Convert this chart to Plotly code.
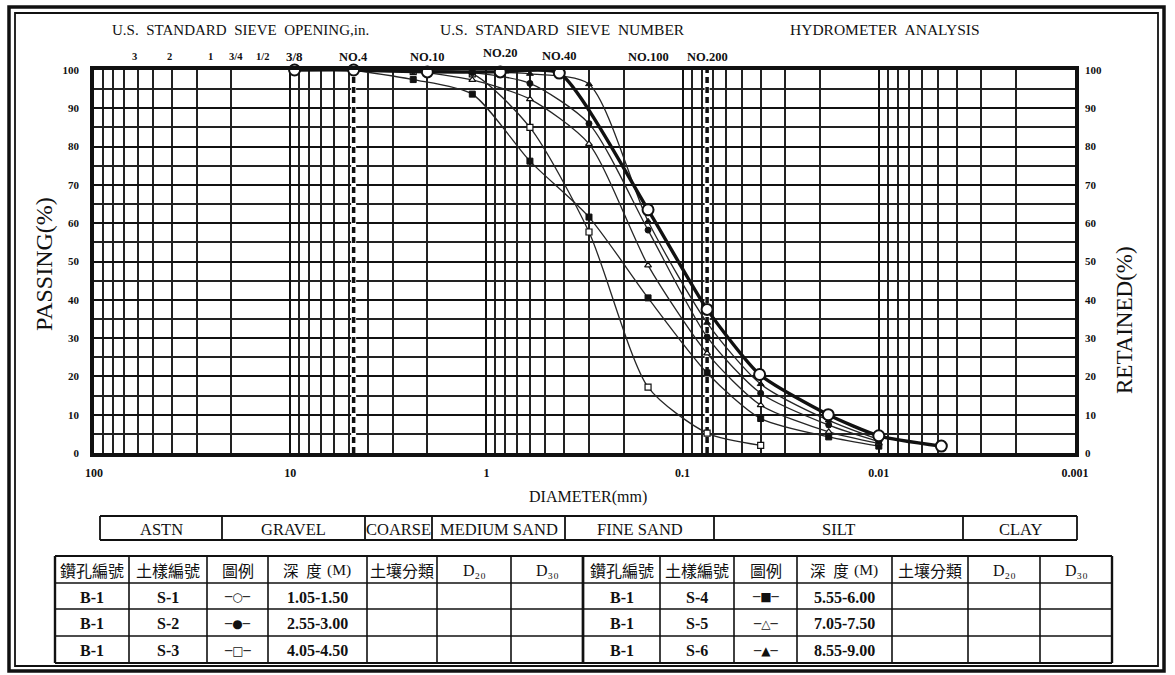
import numpy as np
import plotly.graph_objects as go

# ---------------- data ----------------
# S-1: sieve + hydrometer diameters (mm) and percent passing
s1_d = [9.5, 4.75, 2.0, 0.85, 0.425, 0.15, 0.075, 0.0405, 0.0181, 0.0100, 0.0048]
s1_p = [100, 100, 99.5, 99.5, 99.2, 63.5, 37.5, 20.5, 10.0, 4.5, 1.8]

# S-2 .. S-6: sieves No.4, 8, 16, 30, 50, 100, 200 then hydrometer readings
s2_d = [4.75, 2.36, 1.18, 0.6, 0.3, 0.15, 0.075, 0.040, 0.018, 0.010]
s2_p = [100, 99.8, 99.3, 96.5, 86.0, 58.2, 30.3, 15.6, 7.3, 3.0]

s3_d = [4.75, 2.36, 1.18, 0.6, 0.3, 0.15, 0.075, 0.040]
s3_p = [100, 99.6, 99.0, 85.0, 57.7, 17.2, 5.2, 2.0]

s4_d = [4.75, 2.36, 1.18, 0.6, 0.3, 0.15, 0.075, 0.040, 0.018, 0.010]
s4_p = [100, 97.5, 93.7, 76.2, 61.6, 40.5, 20.9, 9.0, 4.2, 1.8]

s5_d = [4.75, 2.36, 1.18, 0.6, 0.3, 0.15, 0.075, 0.040, 0.018, 0.010]
s5_p = [100, 99.7, 97.4, 92.4, 80.7, 49.0, 26.0, 12.5, 5.5, 2.5]

s6_d = [4.75, 2.36, 1.18, 0.6, 0.3, 0.15, 0.075, 0.040, 0.018, 0.010]
s6_p = [100, 99.8, 99.5, 99.0, 96.3, 60.5, 34.0, 18.0, 8.5, 3.5]

# sieve labels along the top (label, opening in mm)
sieve_labels = ["3", "2", "1", "3/4", "1/2", "3/8", "NO.4", "NO.10", "NO.20", "NO.40", "NO.100", "NO.200"]
sieve_mm = [76.2, 50.8, 25.4, 19.0, 12.7, 9.5, 4.75, 2.0, 0.85, 0.425, 0.15, 0.075]

# boundary sieves drawn as dashed lines
no4_mm = 4.75
no200_mm = 0.075

x_tick_vals = [100, 10, 1, 0.1, 0.01, 0.001]
x_tick_text = ["100", "10", "1", "0.1", "0.01", "0.001"]
y_tick_vals = [0, 10, 20, 30, 40, 50, 60, 70, 80, 90, 100]

class_labels = ["ASTN", "GRAVEL", "COARSE", "MEDIUM SAND", "FINE SAND", "SILT", "CLAY"]

table_header = ["鑽孔編號", "土樣編號", "圖例", "深 度(M)", "土壤分類", "D₂₀", "D₃₀"]
left_rows = [["B-1", "S-1", "─○─", "1.05-1.50"],
             ["B-1", "S-2", "─●─", "2.55-3.00"],
             ["B-1", "S-3", "─□─", "4.05-4.50"]]
right_rows = [["B-1", "S-4", "─■─", "5.55-6.00"],
              ["B-1", "S-5", "─△─", "7.05-7.50"],
              ["B-1", "S-6", "─▲─", "8.55-9.00"]]

# ---------------- layout geometry (pixels) ----------------
W, H = 1175, 675
L, R, T, B = 94, 1075, 70, 453


def px(xp):
    return (xp - L) / (R - L)


def py(yp):
    return (B - yp) / (B - T)


SERIF = "Liberation Serif"
CJK = "Noto Sans CJK TC"
INK = "#111111"

fig = go.Figure()

# boundary dashed lines (white backing so the gaps read as breaks)
for d in (no4_mm, no200_mm):
    fig.add_trace(go.Scatter(x=[d, d], y=[0, 100], mode="lines",
                             line=dict(color="white", width=5),
                             hoverinfo="skip", showlegend=False))
    fig.add_trace(go.Scatter(x=[d, d], y=[0, 100], mode="lines",
                             line=dict(color=INK, width=3.5, dash="6px,4px"),
                             hoverinfo="skip", showlegend=False))

thin = dict(color="#262626", width=1.3, shape="spline", smoothing=0.7)
samples = [
    (s4_d, s4_p, dict(symbol="square", size=6, color=INK, line=dict(color=INK, width=1))),
    (s3_d, s3_p, dict(symbol="square", size=6, color="white", line=dict(color=INK, width=1.2))),
    (s5_d, s5_p, dict(symbol="triangle-up", size=6, color="white", line=dict(color=INK, width=1.2))),
    (s2_d, s2_p, dict(symbol="circle", size=6, color=INK, line=dict(color=INK, width=1))),
    (s6_d, s6_p, dict(symbol="triangle-up", size=6, color=INK, line=dict(color=INK, width=1))),
]
for d, p, mk in samples:
    fig.add_trace(go.Scatter(x=d, y=p, mode="lines+markers", line=thin, marker=mk,
                             cliponaxis=False, showlegend=False))

fig.add_trace(go.Scatter(x=s1_d, y=s1_p, mode="lines+markers",
                         line=dict(color=INK, width=3.4, shape="spline", smoothing=0.6),
                         marker=dict(symbol="circle", size=11, color="white",
                                     line=dict(color=INK, width=2)),
                         cliponaxis=False, showlegend=False))

# right-hand axis carrier
fig.add_trace(go.Scatter(x=[10], y=[None], yaxis="y2", mode="markers",
                         hoverinfo="skip", showlegend=False))

minor_x = [m * 10.0 ** k for k in range(-3, 2) for m in range(2, 10)]

tick_font = dict(family=SERIF, size=12, color=INK, weight=700)
fig.update_layout(
    width=W, height=H,
    margin=dict(l=L, r=W - R, t=T, b=H - B, pad=0),
    paper_bgcolor="white", plot_bgcolor="white",
    xaxis=dict(type="log", range=[2, -3], tickvals=x_tick_vals, ticktext=x_tick_text,
               tickfont=tick_font, ticks="", ticklabelstandoff=6,
               showgrid=True, gridcolor=INK, gridwidth=2,
               minor=dict(tickvals=minor_x, showgrid=True, gridcolor="#222222", gridwidth=1.6, ticks=""),
               showline=True, linecolor=INK, linewidth=3.5, mirror=True, zeroline=False),
    yaxis=dict(range=[0, 100], tickvals=y_tick_vals, tickfont=dict(family=SERIF, size=11, color=INK, weight=700),
               ticks="", ticklabelstandoff=9,
               showgrid=True, gridcolor=INK, gridwidth=2,
               minor=dict(dtick=5, showgrid=True, gridcolor="#222222", gridwidth=1.6, ticks=""),
               showline=True, linecolor=INK, linewidth=3.5, mirror=True, zeroline=False),
    yaxis2=dict(range=[0, 100], overlaying="y", side="right", tickvals=y_tick_vals,
                tickfont=dict(family=SERIF, size=11, color=INK, weight=700),
                ticks="", ticklabelstandoff=9, showgrid=False, zeroline=False, showline=False),
    showlegend=False,
)

ann = []


def text(x, y, s, size=13, family=SERIF, weight=400, xanchor="center", angle=0, xref="paper", yshift=0, xshift=0):
    ann.append(dict(x=x, y=y, xref=xref, yref="paper", text=s, showarrow=False,
                    xanchor=xanchor, yanchor="middle", textangle=angle,
                    xshift=xshift, yshift=yshift,
                    font=dict(family=family, size=size, color=INK, weight=weight)))


# titles above the grid
text(px(240), py(30), "U.S.  STANDARD  SIEVE  OPENING,in.", size=15)
text(px(562), py(30), "U.S.  STANDARD  SIEVE  NUMBER", size=15.5)
text(px(885), py(30), "HYDROMETER  ANALYSIS", size=15.5)

# sieve labels placed at their opening sizes
label_nudge = {"3": (17, 0), "2": (18, 0), "1/2": (-7, 0), "NO.20": (0, 4), "NO.40": (0, 1)}
for lab, mm in zip(sieve_labels, sieve_mm):
    dx, dy = label_nudge.get(lab, (0, 0))
    if lab.startswith("NO"):
        size = 12.5
    elif lab == "3/8":
        size = 13
    else:
        size = 10.5
    text(np.log10(mm), py(57), lab, size=size, weight=700, xref="x", xshift=dx, yshift=dy)

text(px(44), py(264), "PASSING(%)", size=24, angle=-90)
text(px(1124), py(320), "RETAINED(%)", size=23, angle=-90)
text(px(588), py(497), "DIAMETER(mm)", size=16)

shapes = []


def line(x0, y0, x1, y1, w=1.5):
    shapes.append(dict(type="line", xref="paper", yref="paper",
                       x0=px(x0), y0=py(y0), x1=px(x1), y1=py(y1),
                       line=dict(color=INK, width=w)))


# soil classification strip
cls_x = [100, 222, 365, 432, 565, 714, 963, 1077]
cy0, cy1 = 516, 540
line(cls_x[0], cy0, cls_x[-1], cy0, 1.8)
line(cls_x[0], cy1, cls_x[-1], cy1, 1.8)
for xv in cls_x:
    line(xv, cy0, xv, cy1, 1.8)
for i, lab in enumerate(class_labels):
    text(px((cls_x[i] + cls_x[i + 1]) / 2), py((cy0 + cy1) / 2 + 1), lab, size=16.5)

# sample tables
rows_y = [556, 583, 609, 636, 663]
left_cols = [55, 129, 207, 268, 367, 437, 511, 583]
right_cols = [583, 660, 734, 797, 892, 968, 1040, 1112]
for cols, rows in ((left_cols, left_rows), (right_cols, right_rows)):
    for k, yv in enumerate(rows_y):
        line(cols[0], yv, cols[-1], yv, 2.2 if k in (0, len(rows_y) - 1) else 1.6)
    for k, xv in enumerate(cols):
        line(xv, rows_y[0], xv, rows_y[-1], 2.4 if k in (0, len(cols) - 1) else 1.6)
    for j, h in enumerate(table_header):
        cx = (cols[j] + cols[j + 1]) / 2
        if h.startswith("D"):
            text(px(cx), py(570), h, size=16)
        elif h.startswith("深"):
            # CJK characters followed by the serif unit
            cjk_part, unit = h.split("(")
            text(px(cx), py(570), cjk_part.strip(" ").replace(" ", "\u2002"), size=15.5, family=CJK,
                 xanchor="right", xshift=6)
            text(px(cx), py(570), "(" + unit, size=15.5, xanchor="left", xshift=7)
        else:
            text(px(cx), py(570), h, size=16, family=CJK)
    for r, row in enumerate(rows):
        cy = (rows_y[r + 1] + rows_y[r + 2]) / 2 + 1
        for j, v in enumerate(row):
            cx = (cols[j] + cols[j + 1]) / 2
            if j == 2:
                text(px(cx), py(cy), v, size=12, family="DejaVu Sans")
            else:
                text(px(cx), py(cy), v, size=16, weight=700)

# double frame around the sheet
for (x0, y0, x1, y1, w) in ((9, 7, 1164, 671, 3.5), (15, 13, 1158, 666, 1.8)):
    shapes.append(dict(type="rect", xref="paper", yref="paper",
                       x0=px(x0), y0=py(y0), x1=px(x1), y1=py(y1),
                       line=dict(color=INK, width=w)))

fig.update_layout(annotations=ann, shapes=shapes)
fig.write_html("out.html")
